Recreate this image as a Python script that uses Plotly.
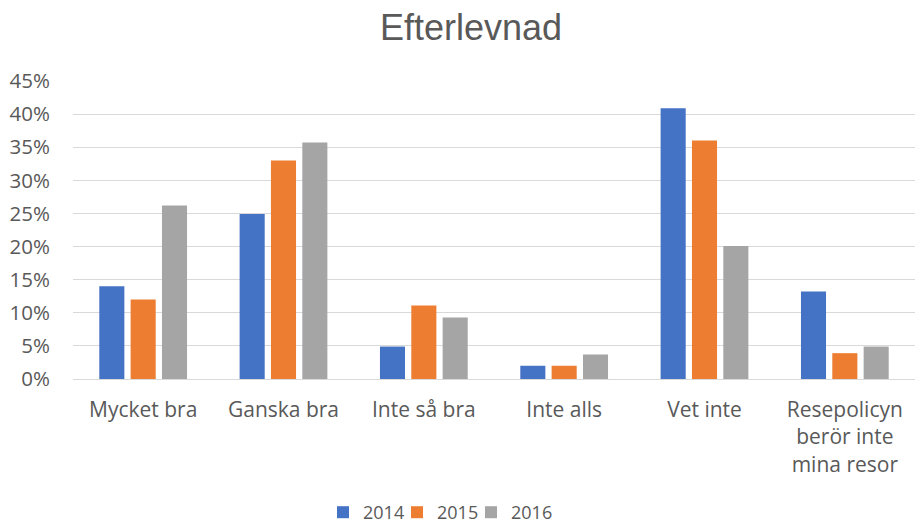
import plotly.graph_objects as go

categories = ["Mycket bra", "Ganska bra", "Inte så bra", "Inte alls", "Vet inte",
              "Resepolicyn<br>berör inte<br>mina resor"]
values_2014 = [0.14, 0.249, 0.049, 0.02, 0.409, 0.132]
values_2015 = [0.12, 0.33, 0.111, 0.02, 0.36, 0.039]
values_2016 = [0.262, 0.357, 0.093, 0.037, 0.201, 0.049]
series_names = ["2014", "2015", "2016"]
colors = ["#4472C4", "#ED7D31", "#A5A5A5"]

font_family = "'Open Sans', 'Noto Sans', sans-serif"
text_color = "#595959"

W, H = 916, 531
legend_ids = ["legend", "legend2", "legend3"]
legend_text_x = [363, 437, 511]  # left edge of each legend label (px)

fig = go.Figure()
for name, vals, col, lid in zip(series_names, [values_2014, values_2015, values_2016],
                                colors, legend_ids):
    fig.add_trace(go.Bar(x=categories, y=vals, name=name, marker_color=col,
                         marker_line_width=0, legend=lid))

legend_common = dict(orientation="h", xanchor="left", xref="container",
                     y=-0.012, yanchor="bottom", yref="container",
                     font=dict(size=18, color=text_color), itemwidth=30,
                     bgcolor="rgba(0,0,0,0)")
layout_legends = {}
for lid, tx in zip(legend_ids, legend_text_x):
    layout_legends[lid] = dict(legend_common, x=(tx - 40) / W)

fig.update_layout(
    width=W, height=H,
    margin=dict(l=73, r=1, t=81, b=152, autoexpand=False),
    paper_bgcolor="white", plot_bgcolor="white",
    font=dict(family=font_family, color=text_color, size=19),
    title=dict(text="Efterlevnad", x=471 / W, xanchor="center", y=1 - 27 / H,
               yanchor="middle", yref="container", xref="container",
               font=dict(size=36, color=text_color,
                         family="'Liberation Sans', Arial, sans-serif")),
    barmode="group", bargap=0.33, bargroupgap=0.2,
    showlegend=True,
    **layout_legends,
)
fig.update_yaxes(range=[0, 0.45], dtick=0.05, tickformat=".0%",
                 showgrid=True, gridcolor="#D9D9D9", gridwidth=1.3,
                 zeroline=True, zerolinecolor="#D9D9D9", zerolinewidth=1.3,
                 ticks="", ticklabelstandoff=22, showline=False, automargin=False,
                 tickfont=dict(size=20.5, color=text_color))
fig.update_xaxes(showline=False, ticks="", automargin=False,
                 tickfont=dict(size=21, color=text_color),
                 ticklabelstandoff=16)

fig.write_html("out.html", config={"displayModeBar": False},
               post_script="document.body.style.margin='0px';")
